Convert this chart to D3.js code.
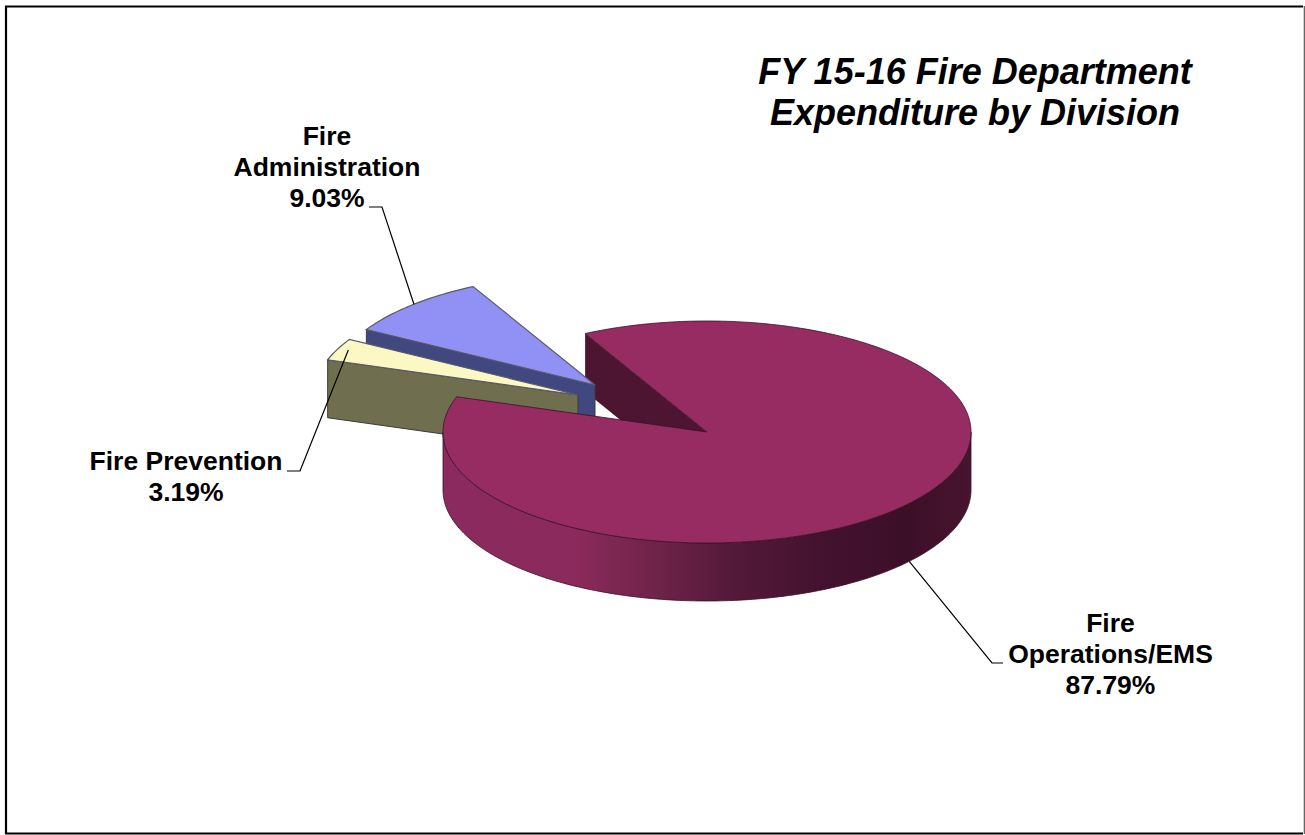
<!DOCTYPE html>
<html><head><meta charset="utf-8">
<script src="https://cdn.jsdelivr.net/npm/d3@7"></script>
<style>html,body{margin:0;padding:0;background:#fff}svg{display:block}text{font-family:"Liberation Sans",Arial,sans-serif;font-weight:bold;fill:#000}</style>
</head><body><svg id="c" width="1305" height="835"></svg>
<script>
const categories=["Fire Operations/EMS","Fire Prevention","Fire Administration"];
const shares=[87.79,3.19,9.03];
const labelLines=[["Fire","Operations/EMS","87.79%"],["Fire Prevention","3.19%"],["Fire","Administration","9.03%"]];
const titleLines=["FY 15-16 Fire Department","Expenditure by Division"];
const topColors=["#962c62","#fbf8c4","#9191f5"];
const wallColors=["#4e1533","#6f6f50","#41487f"];

const W=1305,H=835,cx=707,cy=432,rx=264,ry=111,depth=58;
const deg=Math.PI/180;
const offsets=[[0,0],[-129,-37],[-112,-47]];
const svg=d3.select("#c");
const line=d3.line();
svg.append("path").attr("d",line([[1303,6.5],[6,6.5],[6,833.5],[1303,833.5]])).attr("fill","none").attr("stroke","#000").attr("stroke-width",2.2);
svg.append("path").attr("d",line([[1304.4,6],[1304.4,834]])).attr("fill","none").attr("stroke","#666").attr("stroke-width",1.4);

const start=-27.5*deg;
const pie=d3.pie().value(d=>d).sort(null).startAngle(start).endAngle(start+2*Math.PI);
const arcs=pie(shares);
const sx=d3.scaleLinear().domain([-1,1]).range([-rx,rx]);
const sy=d3.scaleLinear().domain([-1,1]).range([-ry,ry]);
const pt=(a,i,z=0,r=1)=>[cx+offsets[i][0]+sx(r*Math.sin(a)),cy+offsets[i][1]+sy(-r*Math.cos(a))+z];
const apex=(i,z=0)=>[cx+offsets[i][0],cy+offsets[i][1]+z];
function arcPts(a0,a1,i,z){const n=Math.ceil(Math.abs(a1-a0)/(1*deg));return d3.range(n+1).map(k=>pt(a0+(a1-a0)*k/n,i,z));}
function topPath(d,i){return line([apex(i),...arcPts(d.startAngle,d.endAngle,i,0)])+"Z";}
function edgeWall(a,i){return line([apex(i),pt(a,i),pt(a,i,depth),apex(i,depth)])+"Z";}

const defs=svg.append("defs");
const g=defs.append("linearGradient").attr("id","side").attr("gradientUnits","userSpaceOnUse").attr("x1",cx-rx).attr("x2",cx+rx).attr("y1",0).attr("y2",0);
[[0,"#8a2a5e"],[0.25,"#8b2a5c"],[0.4,"#702349"],[0.55,"#541938"],[0.72,"#43122e"],[0.88,"#3c0f29"],[1,"#48142f"]].forEach(s=>g.append("stop").attr("offset",s[0]).attr("stop-color",s[1]));

const m=arcs[0];
// inner wall of the main slice lies behind the exploded slices
svg.append("path").attr("d",edgeWall(m.startAngle,0)).attr("fill",wallColors[0]);
// exploded slices, back to front; only the near cut face is visible
[2,1].forEach(i=>{
  const d=arcs[i];
  svg.append("path").attr("d",edgeWall(d.startAngle,i)).attr("fill",wallColors[i]).attr("stroke","#3b3b3b").attr("stroke-width",1);
  svg.append("path").attr("d",topPath(d,i)).attr("fill",topColors[i]).attr("stroke","#5a5a6a").attr("stroke-width",1.2);
});
// front rim
const rimTop=arcPts(Math.PI/2,3*Math.PI/2,0,0), rimBot=arcPts(3*Math.PI/2,Math.PI/2,0,depth);
svg.append("path").attr("d",line([...rimTop,...rimBot])+"Z").attr("fill","url(#side)").attr("stroke","#3a1028").attr("stroke-width",0.8);
svg.append("path").attr("d",topPath(m,0)).attr("fill",topColors[0]).attr("stroke","#3a1028").attr("stroke-width",0.8);

// leader lines
const leaders=[
 [pt(130*deg,0,depth),[992,663],[1003,663]],
 [pt(-65*deg,1,0,0.96),[300,471],[287,471]],
 [pt(-43.3*deg,2),[382,207],[369,207]]
];
leaders.forEach(l=>svg.append("path").attr("d",line(l)).attr("fill","none").attr("stroke","#000").attr("stroke-width",1.2));

// text
const lab=[[1110.5,632],[186,470],[327,145]];
labelLines.forEach((ls,i)=>{
  const t=svg.append("text").attr("text-anchor","middle").attr("font-size",26.5);
  ls.forEach((s,k)=>t.append("tspan").attr("x",lab[i][0]).attr("y",lab[i][1]+k*31).text(s));
});
const t=svg.append("text").attr("text-anchor","middle").attr("font-size",36).attr("font-style","italic");
titleLines.forEach((s,k)=>t.append("tspan").attr("x",975).attr("y",84+k*41).text(s));
</script></body></html>
